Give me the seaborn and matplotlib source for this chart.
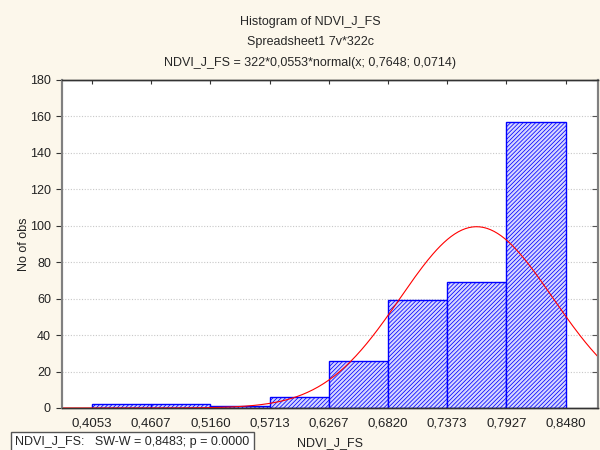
import numpy as np
import pandas as pd
import seaborn as sns
import matplotlib.pyplot as plt

# Histogram data
bin_edges = [0.4053, 0.4607, 0.5160, 0.5713, 0.6267, 0.6820, 0.7373, 0.7927, 0.8480]
edge_labels = ['0,4053', '0,4607', '0,5160', '0,5713', '0,6267', '0,6820', '0,7373', '0,7927', '0,8480']
counts = [2, 2, 1, 6, 26, 59, 69, 157]
y_ticks = [0, 20, 40, 60, 80, 100, 120, 140, 160, 180]

# fitted normal: N * binwidth * normal(x; mean, sd)
n_obs = 322
bin_width = 0.0553
fit_mean = 0.7648
fit_sd = 0.0714

sns.set_style('white')
plt.rcParams['font.family'] = ['Liberation Sans', 'DejaVu Sans']
plt.rcParams['hatch.linewidth'] = 0.55

bg = '#fcf7eb'
fig = plt.figure(figsize=(6, 4.5), dpi=100, facecolor=bg)
ax = fig.add_axes([62 / 600, 1 - 408 / 450, 536 / 600, 328 / 450])
ax.set_facecolor('white')

df = pd.DataFrame({'x': bin_edges[:-1], 'n': counts})
sns.histplot(data=df, x='x', weights='n', bins=bin_edges, ax=ax,
             color='#d6d6ff', edgecolor='#0000ff', hatch='////////',
             linewidth=1.0, alpha=1, zorder=2)

xmin, xmax = 0.3773, 0.8783
xs = np.linspace(xmin, xmax, 300)
ys = n_obs * bin_width * np.exp(-0.5 * ((xs - fit_mean) / fit_sd) ** 2) / (fit_sd * np.sqrt(2 * np.pi))
sns.lineplot(x=xs, y=ys, ax=ax, color='#ff0000', linewidth=0.8, zorder=3)

ax.set_xlim(xmin, xmax)
ax.set_ylim(0, 180)
ax.set_xticks(bin_edges)
ax.set_xticklabels(edge_labels, fontsize=9.5, color='#222222')
ax.set_yticks(y_ticks)
ax.set_yticklabels([str(v) for v in y_ticks], fontsize=9, color='#222222')

for v in y_ticks[1:-1]:
    ax.axhline(v, color='#c8c8c8', linestyle=(0, (1, 1.5)), linewidth=0.8, zorder=1)

ax.tick_params(axis='y', left=True, right=False, direction='out', length=4, width=0.8, color='#333333', pad=4)
ax.tick_params(axis='x', bottom=True, top=True, direction='in', length=3, width=0.8, color='#333333', pad=7)
ax.xaxis.set_ticks_position('both')

# inward ticks on the right side
ax_r = ax.twinx()
ax_r.set_ylim(0, 180)
ax_r.set_yticks(y_ticks)
ax_r.set_yticklabels([])
ax_r.tick_params(axis='y', right=True, direction='in', length=4, width=0.8, color='#555555')
for a in (ax, ax_r):
    for side in ['left', 'right']:
        a.spines[side].set_color('#808080')
        a.spines[side].set_linewidth(1.5)
    for side in ['top', 'bottom']:
        a.spines[side].set_color('#333333')
        a.spines[side].set_linewidth(1.0)

ax.set_xlabel('NDVI_J_FS', fontsize=9, color='#222222', labelpad=5)
ax.set_ylabel('No of obs', fontsize=9, color='#222222', labelpad=0)

fig.text(310 / 600, 1 - 22 / 450, 'Histogram of NDVI_J_FS', ha='center', va='center', fontsize=9)
fig.text(310 / 600, 1 - 42 / 450, 'Spreadsheet1 7v*322c', ha='center', va='center', fontsize=9)
fig.text(310 / 600, 1 - 63 / 450, 'NDVI_J_FS = 322*0,0553*normal(x; 0,7648; 0,0714)',
         ha='center', va='center', fontsize=9)

fig.text(15 / 600, 1 - 442 / 450, 'NDVI_J_FS:   SW-W = 0,8483; p = 0.0000', ha='left', va='center',
         fontsize=9, bbox=dict(boxstyle='square,pad=0.35', facecolor='white', edgecolor='#555555', linewidth=1.0))

fig.savefig('out.png', dpi=100, facecolor=bg)
